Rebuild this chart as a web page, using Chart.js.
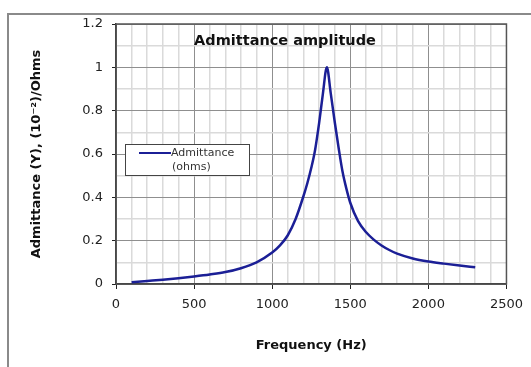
<!DOCTYPE html>
<html>
<head>
<meta charset="utf-8">
<script src="https://cdn.jsdelivr.net/npm/chart.js@4.4.0/dist/chart.umd.min.js"></script>
<style>
    html, body { margin: 0; padding: 0; background: #fff; }
</style>
</head>
<body>
<canvas id="admChart" width="531" height="367"></canvas>
<script>
// ------------------ data ------------------//
var freqs = [100, 200, 300, 400, 500, 600, 700, 800, 900, 1000, 1050, 1100, 1150, 1200, 1225, 1250, 1275,
    1300, 1325, 1350, 1375, 1400, 1425, 1450, 1475, 1500, 1550, 1600, 1650, 1700, 1750, 1800, 1900, 2000,
    2100, 2200, 2300];
var admittance = [0.008, 0.014, 0.020, 0.027, 0.035, 0.044, 0.055, 0.073, 0.100, 0.145, 0.178, 0.225, 0.300,
    0.405, 0.465, 0.535, 0.620, 0.740, 0.880, 1.000, 0.880, 0.750, 0.630, 0.520, 0.440, 0.375, 0.290, 0.240,
    0.205, 0.178, 0.157, 0.140, 0.118, 0.104, 0.094, 0.085, 0.077];
var xLabels = [0, 500, 1000, 1500, 2000, 2500];
var yLabels = [0, 0.2, 0.4, 0.6, 0.8, 1, 1.2];
var seriesName = ['Admittance', '(ohms)'];
var chartTitle = 'Admittance amplitude';
var xTitle = 'Frequency (Hz)';
var yTitle = 'Admittance (Y), (10\u207B\u00B2)/Ohms';

var points = freqs.map(function (f, i) { return { x: f, y: admittance[i] }; });

var FONT = '"DejaVu Sans", Verdana, sans-serif';
var LINE_COLOR = '#1b1f96';

function isMajorX(v) { return xLabels.indexOf(Math.round(v)) !== -1; }
function isMajorY(v) { return yLabels.indexOf(Math.round(v * 10) / 10) !== -1; }

// frame, plot border, title and legend (Excel style)
var decor = {
    id: 'decor',
    beforeDraw: function (chart) {
        var c = chart.ctx;
        c.save();
        c.fillStyle = '#fff';
        c.fillRect(0, 0, chart.width, chart.height);
        c.strokeStyle = '#8a8a8a';
        c.lineWidth = 2;
        c.beginPath();
        c.moveTo(8, chart.height);
        c.lineTo(8, 14);
        c.lineTo(chart.width, 14);
        c.stroke();
        c.restore();
    },
    beforeDatasetsDraw: function (chart) {
        var a = chart.chartArea, c = chart.ctx;
        c.save();
        c.strokeStyle = '#555';
        c.lineWidth = 1.5;
        c.strokeRect(a.left, a.top, a.right - a.left, a.bottom - a.top);
        c.restore();
    },
    afterDraw: function (chart) {
        var a = chart.chartArea, c = chart.ctx;
        c.save();
        // title
        c.font = 'bold 14.5px ' + FONT;
        c.fillStyle = '#111';
        c.textAlign = 'center';
        c.textBaseline = 'middle';
        c.fillText(chartTitle, a.left + 169, a.top + 17);

        // legend
        var lx = a.left + 9, ly = a.top + 120;
        c.fillStyle = '#fff';
        c.fillRect(lx, ly, 124, 31);
        c.strokeStyle = '#444';
        c.lineWidth = 1;
        c.strokeRect(lx + 0.5, ly + 0.5, 124, 31);
        c.strokeStyle = LINE_COLOR;
        c.lineWidth = 2;
        c.beginPath();
        c.moveTo(lx + 14, ly + 9);
        c.lineTo(lx + 46, ly + 9);
        c.stroke();
        c.font = '11px ' + FONT;
        c.fillStyle = '#333';
        c.textAlign = 'left';
        c.fillText(seriesName[0], lx + 46, ly + 9);
        c.fillText(seriesName[1], lx + 47, ly + 23);
        c.restore();
    }
};

new Chart('admChart', {
    type: 'line',
    data: {
        datasets: [{
            label: seriesName.join(' '),
            data: points,
            borderColor: LINE_COLOR,
            borderWidth: 2.5,
            pointRadius: 0,
            fill: false,
            cubicInterpolationMode: 'monotone'
        }]
    },
    options: {
        responsive: false,
        animation: false,
        layout: { padding: { left: 10, right: 24, top: 24, bottom: 8 } },
        plugins: {
            legend: { display: false },
            title: { display: false },
            tooltip: { enabled: false }
        },
        scales: {
            x: {
                type: 'linear',
                min: 0,
                max: 2500,
                afterFit: function (scale) { scale.height = 75; },
                ticks: {
                    stepSize: 100,
                    autoSkip: false,
                    maxRotation: 0,
                    padding: 8,
                    color: '#222',
                    font: { family: FONT, size: 13 },
                    callback: function (v) { return isMajorX(v) ? String(v) : ''; }
                },
                grid: {
                    color: function (ctx) { return isMajorX(ctx.tick.value) ? '#8f8f8f' : '#dadada'; },
                    lineWidth: function (ctx) { return isMajorX(ctx.tick.value) ? 1 : 1.5; },
                    tickLength: 5,
                    tickColor: function (ctx) { return isMajorX(ctx.tick.value) ? '#222' : 'rgba(0,0,0,0)'; }
                },
                border: { color: '#222', width: 1.5 },
                title: {
                    display: true,
                    text: xTitle,
                    color: '#111',
                    font: { family: FONT, size: 13, weight: 'bold' },
                    padding: { top: 0, bottom: 6 }
                }
            },
            y: {
                min: 0,
                max: 1.2,
                afterFit: function (scale) { scale.width = 106; },
                ticks: {
                    stepSize: 0.1,
                    autoSkip: false,
                    padding: 9,
                    color: '#222',
                    font: { family: FONT, size: 13 },
                    callback: function (v) { return isMajorY(v) ? String(Math.round(v * 10) / 10) : ''; }
                },
                grid: {
                    color: function (ctx) { return isMajorY(ctx.tick.value) ? '#8f8f8f' : '#dadada'; },
                    lineWidth: function (ctx) { return isMajorY(ctx.tick.value) ? 1 : 1.5; },
                    tickLength: 4,
                    tickColor: function (ctx) { return isMajorY(ctx.tick.value) ? '#222' : 'rgba(0,0,0,0)'; }
                },
                border: { color: '#222', width: 1.5 },
                title: {
                    display: true,
                    text: yTitle,
                    color: '#111',
                    font: { family: FONT, size: 13, weight: 'bold' },
                    padding: { top: 19, bottom: 0 }
                }
            }
        }
    },
    plugins: [decor]
});
</script>
</body>
</html>
